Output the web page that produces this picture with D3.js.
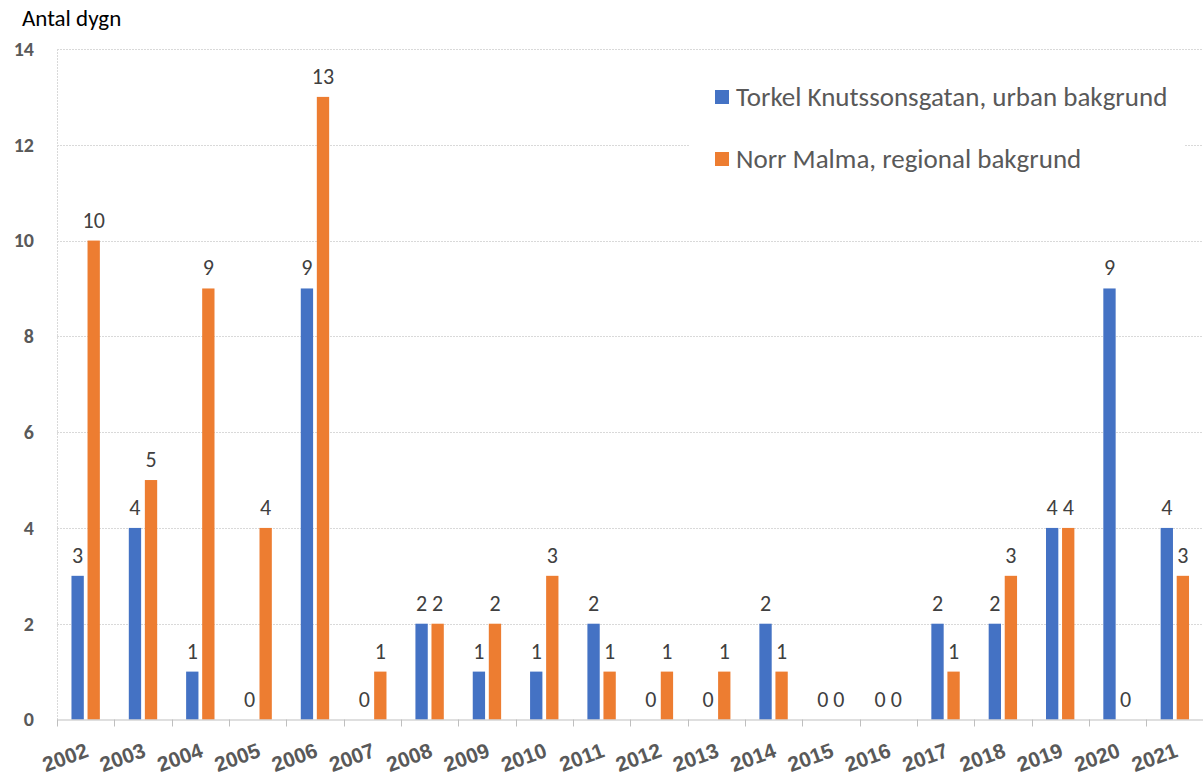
<!DOCTYPE html>
<html>
<head>
<meta charset="utf-8">
<script src="https://cdn.jsdelivr.net/npm/d3@7"></script>
<style>
  html, body { margin: 0; padding: 0; background: #fff; }
  svg { display: block; font-family: Carlito, "Liberation Sans", "Open Sans", sans-serif; }
</style>
</head>
<body>
<svg id="chart" width="1203" height="783"></svg>
<script>
// Days per year, two measuring stations
const years = ["2002","2003","2004","2005","2006","2007","2008","2009","2010","2011",
               "2012","2013","2014","2015","2016","2017","2018","2019","2020","2021"];
const urban    = [3, 4, 1, 0, 9, 0, 2, 1, 1, 2, 0, 0, 2, 0, 0, 2, 2, 4, 9, 4];
const regional = [10, 5, 9, 4, 13, 1, 2, 2, 3, 1, 1, 1, 1, 0, 0, 1, 3, 4, 0, 3];
const seriesNames = ["Torkel Knutssonsgatan, urban bakgrund", "Norr Malma, regional bakgrund"];
const seriesColors = ["#4472C4", "#ED7D31"];
const yTicks = [0, 2, 4, 6, 8, 10, 12, 14];

const svg = d3.select("#chart");
const margin = { left: 57, top: 49 };
const innerBottom = 719.5;

const x = d3.scaleBand().domain(years).range([margin.left, 1203.5]).paddingInner(0).paddingOuter(0);
const y = d3.scaleLinear().domain([0, 14]).range([innerBottom, margin.top]);

const bw = x.bandwidth();
const barW = bw * 0.215;
const gap = bw * 0.065;
const sub = d3.scaleOrdinal().domain([0, 1]).range([bw / 2 - gap / 2 - barW, bw / 2 + gap / 2]);

// Gridlines
svg.append("g")
  .selectAll("line")
  .data(yTicks.filter(d => d > 0))
  .join("line")
  .attr("x1", margin.left).attr("x2", 1203)
  .attr("y1", d => Math.round(y(d)) + 0.5).attr("y2", d => Math.round(y(d)) + 0.5)
  .attr("stroke", "#d9d9d9").attr("stroke-width", 1).attr("stroke-dasharray", "2,1");

// Left vertical line
svg.append("line")
  .attr("x1", margin.left + 0.5).attr("x2", margin.left + 0.5)
  .attr("y1", margin.top).attr("y2", innerBottom)
  .attr("stroke", "#d9d9d9").attr("stroke-dasharray", "2,1");

// Y axis labels
const yAxis = d3.axisLeft(y).tickValues(yTicks).tickSize(0).tickPadding(0);
const gy = svg.append("g").attr("transform", "translate(34,0)").call(yAxis);
gy.select(".domain").remove();
gy.selectAll("text")
  .attr("fill", "#595959").attr("font-size", 20).attr("font-weight", "bold")
  .attr("font-family", "Carlito, 'Liberation Sans', sans-serif");

// Legend background (covers grid)
svg.append("rect").attr("x", 690).attr("y", 60).attr("width", 495).attr("height", 125).attr("fill", "#fff");

// Bars
const data = years.map((yr, i) => ({ yr, vals: [urban[i], regional[i]] }));
const groups = svg.append("g").selectAll("g")
  .data(data).join("g")
  .attr("transform", d => `translate(${x(d.yr)},0)`);

groups.selectAll("rect")
  .data(d => d.vals.map((v, s) => ({ v, s })))
  .join("rect")
  .attr("x", d => sub(d.s))
  .attr("width", barW)
  .attr("y", d => y(d.v))
  .attr("height", d => y(0) - y(d.v))
  .attr("fill", d => seriesColors[d.s]);

groups.selectAll("text.lbl")
  .data(d => d.vals.map((v, s) => ({ v, s })))
  .join("text")
  .attr("class", "lbl")
  .attr("x", d => sub(d.s) + barW / 2)
  .attr("y", d => y(d.v) - 13)
  .attr("text-anchor", "middle")
  .attr("fill", "#404040")
  .attr("font-size", 22)
  .text(d => d.v);

// X axis
const xAxis = d3.axisBottom(x).tickSize(0).tickFormat(d => d);
const gx = svg.append("g").attr("transform", `translate(0,${innerBottom})`).call(xAxis);
gx.select(".domain").remove();
gx.append("line").attr("x1", margin.left).attr("x2", 1203).attr("y1", 0.5).attr("y2", 0.5).attr("stroke", "#bfbfbf");
gx.selectAll(".tickmark")
  .data(years.concat(["_end"]))
  .join("line")
  .attr("class", "tickmark")
  .attr("x1", (d, i) => Math.round(margin.left + i * bw) + 0.5)
  .attr("x2", (d, i) => Math.round(margin.left + i * bw) + 0.5)
  .attr("y1", 0).attr("y2", 7)
  .attr("stroke", "#bfbfbf");
gx.selectAll(".tick text")
  .attr("fill", "#595959").attr("font-size", 21).attr("font-weight", "bold")
  .attr("text-anchor", "end")
  .attr("transform", "translate(3,34) rotate(-20)")
  .attr("dy", 0);

// Y axis title
svg.append("text").attr("x", 22).attr("y", 26)
  .attr("fill", "#000").attr("font-size", 23).text("Antal dygn");

// Legend
const leg = svg.append("g");
seriesNames.forEach((name, i) => {
  const yy = 97 + i * 62;
  leg.append("rect").attr("x", 715).attr("y", yy - 7).attr("width", 14).attr("height", 14).attr("fill", seriesColors[i]);
  leg.append("text").attr("x", 736).attr("y", yy + 8.5)
    .attr("fill", "#595959").attr("font-size", 27).text(name);
});
</script>
</body>
</html>
